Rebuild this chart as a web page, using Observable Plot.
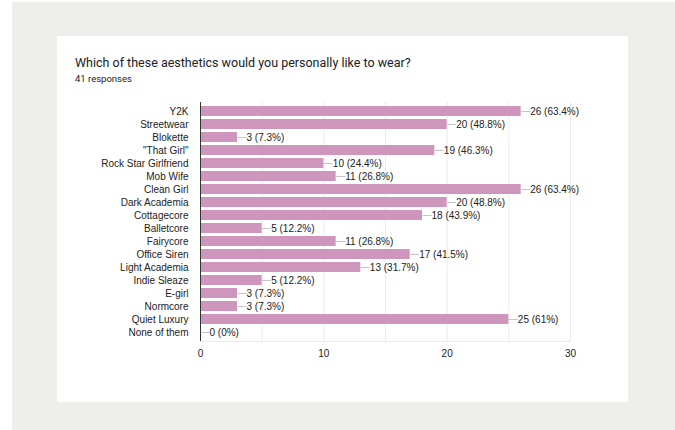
<!DOCTYPE html>
<html>
<head>
<meta charset="utf-8">
<script src="https://cdn.jsdelivr.net/npm/d3@7"></script>
<script src="https://cdn.jsdelivr.net/npm/@observablehq/plot@0.6"></script>
<style>
  html, body { margin: 0; padding: 0; background: #ffffff; }
  #page { position: relative; width: 675px; height: 430px; overflow: hidden; }
  #bg { position: absolute; left: 12px; top: 2px; right: 0; bottom: 0; background: #eeeeea; }
  #card { position: absolute; left: 57px; top: 36px; width: 571px; height: 366px; background: #ffffff; }
  #title { position: absolute; left: 18px; top: 19px; font-family: Roboto, "Liberation Sans", sans-serif; font-size: 12.5px; color: #202124; white-space: nowrap; }
  #sub { position: absolute; left: 18px; top: 37px; font-family: Roboto, "Liberation Sans", sans-serif; font-size: 9.5px; color: #202124; }
  #chart { position: absolute; left: 0; top: 54px; }
</style>
</head>
<body>
<div id="page">
  <div id="bg"></div>
  <div id="card">
    <div id="title">Which of these aesthetics would you personally like to wear?</div>
    <div id="sub">41 responses</div>
    <div id="chart"></div>
  </div>
</div>
<script>
const categories = ["Y2K", "Streetwear", "Blokette", "\"That Girl\"", "Rock Star Girlfriend", "Mob Wife", "Clean Girl", "Dark Academia", "Cottagecore", "Balletcore", "Fairycore", "Office Siren", "Light Academia", "Indie Sleaze", "E-girl", "Normcore", "Quiet Luxury", "None of them"];
const counts = [26, 20, 3, 19, 10, 11, 26, 20, 18, 5, 11, 17, 13, 5, 3, 3, 25, 0];
const percents = ["63.4%", "48.8%", "7.3%", "46.3%", "24.4%", "26.8%", "63.4%", "48.8%", "43.9%", "12.2%", "26.8%", "41.5%", "31.7%", "12.2%", "7.3%", "7.3%", "61%", "0%"];
const xTicks = [0, 10, 20, 30];
const gridTicks = [5, 10, 15, 20, 25, 30];

const data = categories.map((c, i) => ({cat: c, value: counts[i], label: `${counts[i]} (${percents[i]})`}));

const chart = Plot.plot({
  width: 571,
  height: 277,
  marginLeft: 143,
  marginRight: 58,
  marginTop: 12,
  marginBottom: 26,
  style: {fontFamily: "'Liberation Sans', Arial, sans-serif", fontSize: "10px", color: "#222", background: "transparent"},
  x: {domain: [0, 30], ticks: xTicks, tickSize: 0, tickPadding: 8, label: null, tickFormat: d => String(d)},
  y: {domain: categories, label: null, tickSize: 0, tickPadding: 12, paddingInner: 0.25, paddingOuter: 0.1},
  marks: [
    Plot.ruleX(gridTicks, {x: d => d, stroke: "#ebebeb", strokeWidth: 1}),
    Plot.frame({anchor: "bottom", stroke: "#ebebeb"}),
    Plot.barX(data, {y: "cat", x: "value", fill: "#cf96bd"}),
    Plot.ruleX([0], {stroke: "#333", strokeWidth: 1}),
    Plot.text(data, {y: "cat", x: "value", text: () => "\u2014", textAnchor: "start", dx: 0, fill: "#999", fontSize: 9}),
    Plot.text(data, {y: "cat", x: "value", text: "label", textAnchor: "start", dx: 9, fill: "#222", fontSize: 10})
  ]
});
document.getElementById("chart").appendChild(chart);
</script>
</body>
</html>
